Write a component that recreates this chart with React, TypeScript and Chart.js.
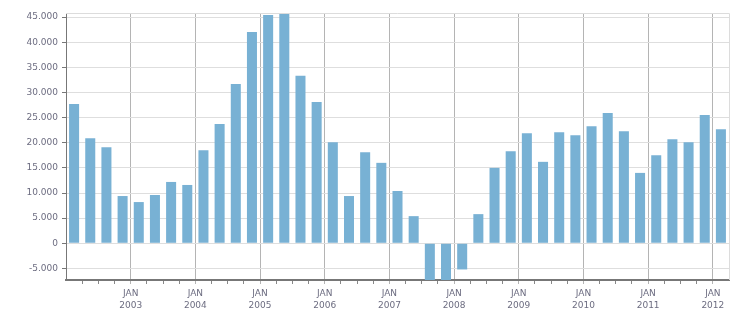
import React, { useEffect, useRef } from 'react';
import { Chart, registerables } from 'chart.js';

Chart.register(...registerables);

const quarters = [
  '2002 Q1', '2002 Q2', '2002 Q3', '2002 Q4',
  '2003 Q1', '2003 Q2', '2003 Q3', '2003 Q4',
  '2004 Q1', '2004 Q2', '2004 Q3', '2004 Q4',
  '2005 Q1', '2005 Q2', '2005 Q3', '2005 Q4',
  '2006 Q1', '2006 Q2', '2006 Q3', '2006 Q4',
  '2007 Q1', '2007 Q2', '2007 Q3', '2007 Q4',
  '2008 Q1', '2008 Q2', '2008 Q3', '2008 Q4',
  '2009 Q1', '2009 Q2', '2009 Q3', '2009 Q4',
  '2010 Q1', '2010 Q2', '2010 Q3', '2010 Q4',
  '2011 Q1', '2011 Q2', '2011 Q3', '2011 Q4',
  '2012 Q1',
];

const values = [
  27700, 20900, 19100, 9400,
  8200, 9600, 12200, 11600,
  18500, 23700, 31700, 42000,
  45400, 45700, 33300, 28100,
  20100, 9400, 18100, 16000,
  10400, 5400, -9000, -8500,
  -5200, 5800, 15000, 18300,
  21900, 16200, 22100, 21500,
  23300, 25900, 22300, 14000,
  17500, 20700, 20100, 25500,
  22700,
];

const monthLabel = 'JAN';
const yearLabels = ['2003', '2004', '2005', '2006', '2007', '2008', '2009', '2010', '2011', '2012'];
const yearTickValues = [4, 8, 12, 16, 20, 24, 28, 32, 36, 40];
const yTicks = [-5000, 0, 5000, 10000, 15000, 20000, 25000, 30000, 35000, 40000, 45000];
const yMin = -7300;
const yMax = 45800;

const textColor = '#6c6c80';
const font = { family: 'DejaVu Sans', size: 9, lineHeight: 1.4 };

function fmt(v: number): string {
  const s = Math.abs(v).toString().replace(/\B(?=(\d{3})+(?!\d))/g, '.');
  return (v < 0 ? '-' : '') + s;
}

const borderPlugin = {
  id: 'topRightBorder',
  afterDatasetsDraw(chart: any) {
    const { ctx, chartArea } = chart;
    const { top, right, bottom, left } = chartArea;
    ctx.save();
    ctx.strokeStyle = '#dcdcdc';
    ctx.lineWidth = 1;
    ctx.beginPath();
    const t = Math.round(top) + 0.5;
    const r = Math.round(right) + 0.5;
    ctx.moveTo(left, t);
    ctx.lineTo(r, t);
    ctx.lineTo(r, bottom);
    ctx.stroke();
    ctx.restore();
  },
};

export default function App() {
  const canvasRef = useRef<HTMLCanvasElement | null>(null);

  useEffect(() => {
    document.body.style.margin = '0';
    const canvas = canvasRef.current;
    if (!canvas) return;
    const chart = new Chart(canvas, {
      type: 'bar',
      data: {
        datasets: [
          {
            label: 'Value',
            data: values.map((v, i) => ({ x: i + 0.5, y: v })),
            backgroundColor: '#78b1d4',
            borderWidth: 0,
            barPercentage: 0.62,
            categoryPercentage: 1,
            clip: 0,
          },
        ],
      },
      options: {
        animation: false,
        responsive: true,
        maintainAspectRatio: false,
        layout: { padding: { top: 13, right: 22, left: 0, bottom: 0 } },
        plugins: {
          legend: { display: false },
          tooltip: { enabled: false },
        },
        scales: {
          x: {
            type: 'linear',
            offset: false,
            min: 0,
            max: quarters.length,
            afterBuildTicks: (s: any) => {
              s.ticks = quarters.map((_, i) => ({ value: i })).slice(1);
            },
            afterFit: (s: any) => {
              s.height = 33;
            },
            ticks: {
              autoSkip: false,
              maxRotation: 0,
              minRotation: 0,
              padding: 3,
              color: textColor,
              font,
              callback: (v: any) => {
                const k = yearTickValues.indexOf(Number(v));
                return k >= 0 ? [monthLabel, yearLabels[k]] : '';
              },
            },
            grid: {
              offset: false,
              color: (c: any) =>
                c.tick && yearTickValues.includes(c.tick.value) ? '#b4b4b4' : 'rgba(0,0,0,0)',
              tickColor: (c: any) =>
                c.tick && yearTickValues.includes(c.tick.value) ? '#b4b4b4' : '#888888',
              tickLength: 4,
            },
            border: { color: '#777777', width: 2 },
          },
          y: {
            type: 'linear',
            min: yMin,
            max: yMax,
            afterBuildTicks: (s: any) => {
              s.ticks = yTicks.map((v) => ({ value: v }));
            },
            afterFit: (s: any) => {
              s.width = 66;
            },
            ticks: {
              color: textColor,
              font: { family: 'DejaVu Sans', size: 9 },
              padding: 4,
              callback: (v: any) => fmt(Number(v)),
            },
            grid: {
              color: '#dedede',
              tickColor: '#777777',
              tickLength: 4,
            },
            border: { color: '#777777', width: 1 },
          },
        },
      },
      plugins: [borderPlugin],
    });
    return () => chart.destroy();
  }, []);

  return (
    <div style={{ position: 'relative', width: 751, height: 313 }}>
      <canvas ref={canvasRef} />
    </div>
  );
}
